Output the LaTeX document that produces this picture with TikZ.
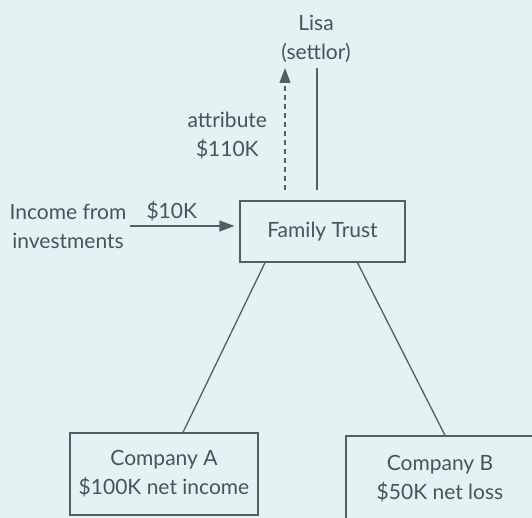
\documentclass[tikz,border=0pt]{standalone}
\usepackage{fontspec}
\setmainfont{Lato}
\usetikzlibrary{arrows.meta}

\definecolor{bgcol}{HTML}{E4F2F4}
\definecolor{inkcol}{HTML}{46545D}
\definecolor{linecol}{HTML}{505F68}

\begin{document}
\begin{tikzpicture}[
    x=1pt, y=-1pt,
    line width=1.3pt,
    every node/.style={text=inkcol, font=\fontsize{21}{29}\selectfont, align=center},
    box/.style={draw=linecol, minimum width=188, minimum height=82},
    arr/.style={-{Triangle[length=15pt,width=11pt]}, draw=linecol},
  ]
  \fill[bgcol] (0,0) rectangle (532,518);
  \useasboundingbox (0,0) rectangle (532,518);

  % boxes
  \node[box, minimum width=165, minimum height=61] (trust) at (322.5,231.5) {Family Trust};
  \node[box] (compa) at (164,474) {Company A\\\$100K net income};
  \node[box, minimum height=86] (compb) at (440,479) {Company B\\\$50K net loss};

  % free text
  \node[anchor=south, inner sep=3pt] (lisa) at (316,66) {Lisa\\(settlor)};
  \node (income) at (68,226) {Income from\\investments};

  \draw[draw=linecol] ([xshift=-57.5]trust.south) -- ([xshift=19]compa.north);
  \draw[draw=linecol] ([xshift=35]trust.south) -- ([xshift=5]compb.north);

  \draw[arr, shorten >=5pt] (income.east) -- (income.east -| trust.west)
    node[pos=.38, above=1pt] (inc) {\$10K};

  \draw[arr, dash pattern=on 5pt off 4pt]
    ([xshift=-37.5,yshift=10]trust.north) -- ([xshift=-31,yshift=-2]lisa.south)
    node[pos=.45, left=14pt] (attr) {attribute\\\$110K};
  \draw[draw=linecol] ([xshift=-5.5,yshift=10]trust.north) -- ([xshift=1,yshift=-2]lisa.south);
\end{tikzpicture}
\end{document}
